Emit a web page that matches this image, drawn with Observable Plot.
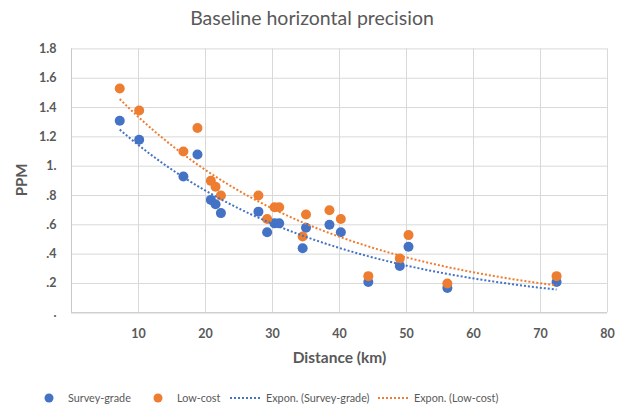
<!DOCTYPE html>
<html>
<head>
<meta charset="utf-8">
<script src="https://cdn.jsdelivr.net/npm/d3@7"></script>
<script src="https://cdn.jsdelivr.net/npm/@observablehq/plot@0.6"></script>
<style>
  html, body { margin: 0; padding: 0; background: #fff; }
  body { width: 624px; height: 408px; position: relative; overflow: hidden; font-family: Lato, "Open Sans", sans-serif; }
  #title { position: absolute; left: 0; top: 0; width: 624px; height: 36px; line-height: 36px; text-align: center; font-size: 19.5px; color: #595959; z-index: 2; }
  #chart { position: absolute; left: 0; top: 0; }
  #legend { position: absolute; left: 0; top: 384px; width: 624px; height: 24px; font-size: 10.8px; color: #595959; }
  #legend .el { position: absolute; top: 7px; white-space: nowrap; line-height: 14px; height: 14px; }
</style>
</head>
<body>
<div id="chart"></div>
<div id="title">Baseline horizontal precision</div>
<div id="legend"></div>
<script>
// ---- data ----
const distance    = [7.2, 10.1, 16.7, 18.8, 20.8, 21.5, 22.3, 27.9, 29.2, 30.3, 31.0, 34.5, 35.0, 38.5, 40.2, 44.3, 49.0, 50.3, 56.1, 72.4];
const surveyGrade = [1.31, 1.18, 0.93, 1.08, 0.77, 0.74, 0.68, 0.69, 0.55, 0.61, 0.61, 0.44, 0.58, 0.60, 0.55, 0.21, 0.32, 0.45, 0.17, 0.21];
const lowCost     = [1.53, 1.38, 1.10, 1.26, 0.90, 0.86, 0.80, 0.80, 0.64, 0.72, 0.72, 0.52, 0.67, 0.70, 0.64, 0.25, 0.37, 0.53, 0.20, 0.25];
const seriesNames = ["Survey-grade", "Low-cost"];
const trendNames  = ["Expon. (Survey-grade)", "Expon. (Low-cost)"];
const xTicks      = [10, 20, 30, 40, 50, 60, 70, 80];
const yTicks      = [0, 0.2, 0.4, 0.6, 0.8, 1.0, 1.2, 1.4, 1.6, 1.8];
const yTickLabels = [".", ".2", ".4", ".6", ".8", "1.", "1.2", "1.4", "1.6", "1.8"];
const colors      = ["#4472C4", "#ED7D31"];

// ---- build tables ----
const points = [];
[surveyGrade, lowCost].forEach((vals, s) => {
  vals.forEach((v, i) => points.push({series: seriesNames[s], x: distance[i], y: v}));
});

// exponential least-squares fit (as Excel's "Expon." trendline), y = a*exp(b*x)
function expFit(xs, ys) {
  const ly = ys.map(Math.log);
  const mx = d3.mean(xs), my = d3.mean(ly);
  let sxy = 0, sxx = 0;
  for (let i = 0; i < xs.length; i++) { sxy += (xs[i]-mx)*(ly[i]-my); sxx += (xs[i]-mx)**2; }
  const b = sxy / sxx, a = Math.exp(my - b*mx);
  return x => a * Math.exp(b * x);
}
const trend = [];
[surveyGrade, lowCost].forEach((vals, s) => {
  const f = expFit(distance, vals);
  const [x0, x1] = d3.extent(distance);
  const n = 80;
  for (let k = 0; k <= n; k++) {
    const x = x0 + (x1 - x0) * k / n;
    trend.push({series: trendNames[s], x, y: f(x)});
  }
});

const textColor = "#595959";
const font = "Lato, 'Open Sans', sans-serif";
const chart = Plot.plot({
  width: 624,
  height: 380,
  marginLeft: 71,
  marginRight: 17,
  marginTop: 48.4,
  marginBottom: 67.7,
  style: {fontFamily: font, color: textColor, background: "white"},
  x: {domain: [0, 80]},
  y: {domain: [0, 1.8]},
  marks: [
    Plot.gridX(xTicks, {stroke: "#d9d9d9", strokeOpacity: 1, strokeWidth: 1}),
    Plot.gridY(yTicks, {stroke: "#d9d9d9", strokeOpacity: 1, strokeWidth: 1}),
    Plot.ruleX([0], {stroke: "#c8c8c8", strokeWidth: 1}),
    Plot.ruleY([0], {stroke: "#c8c8c8", strokeWidth: 1}),
    Plot.axisX({ticks: xTicks, tickSize: 0, tickPadding: 16, label: null, fontSize: 12.5, fontWeight: "bold", fill: textColor}),
    Plot.axisY({ticks: yTicks, tickSize: 0, tickPadding: 15, label: null, fontSize: 12.5, fontWeight: "bold", fill: textColor,
      tickFormat: d => yTickLabels[yTicks.findIndex(t => Math.abs(t - d) < 1e-9)]}),
    Plot.text(["Distance (km)"], {frameAnchor: "bottom", lineAnchor: "middle", textAnchor: "middle", dy: 45, fontSize: 15.5, fontWeight: "bold", fill: textColor}),
    Plot.text(["PPM"], {frameAnchor: "left", lineAnchor: "middle", textAnchor: "middle", dx: -49.5, dy: -1, rotate: -90, fontSize: 15, fontWeight: "bold", fill: textColor}),
    Plot.dot(points, {x: "x", y: "y", fill: d => colors[seriesNames.indexOf(d.series)], r: 5, stroke: "none"}),
    Plot.line(trend, {x: "x", y: "y", z: "series", stroke: d => colors[trendNames.indexOf(d.series)],
      strokeWidth: 2, strokeDasharray: "2,2", strokeLinecap: "butt"})
  ]
});
document.getElementById("chart").appendChild(chart);

// legend
const legend = document.getElementById("legend");
const legendItems = [
  {label: seriesNames[0], color: colors[0], type: "dot",  sx: 44,  tx: 68},
  {label: seriesNames[1], color: colors[1], type: "dot",  sx: 153, tx: 177},
  {label: trendNames[0],  color: colors[0], type: "line", sx: 230, tx: 266},
  {label: trendNames[1],  color: colors[1], type: "line", sx: 378, tx: 414}
];
legendItems.forEach(it => {
  const sym = document.createElement("div");
  sym.className = "el";
  sym.style.left = it.sx + "px";
  sym.innerHTML = it.type === "dot"
    ? `<svg width="12" height="14" style="display:block"><circle cx="5" cy="7" r="4.5" fill="${it.color}"/></svg>`
    : `<svg width="33" height="14" style="display:block"><line x1="0" x2="32" y1="7" y2="7" stroke="${it.color}" stroke-width="2" stroke-dasharray="2,2"/></svg>`;
  legend.appendChild(sym);
  const txt = document.createElement("div");
  txt.className = "el";
  txt.style.left = it.tx + "px";
  txt.textContent = it.label;
  legend.appendChild(txt);
});
</script>
</body>
</html>
